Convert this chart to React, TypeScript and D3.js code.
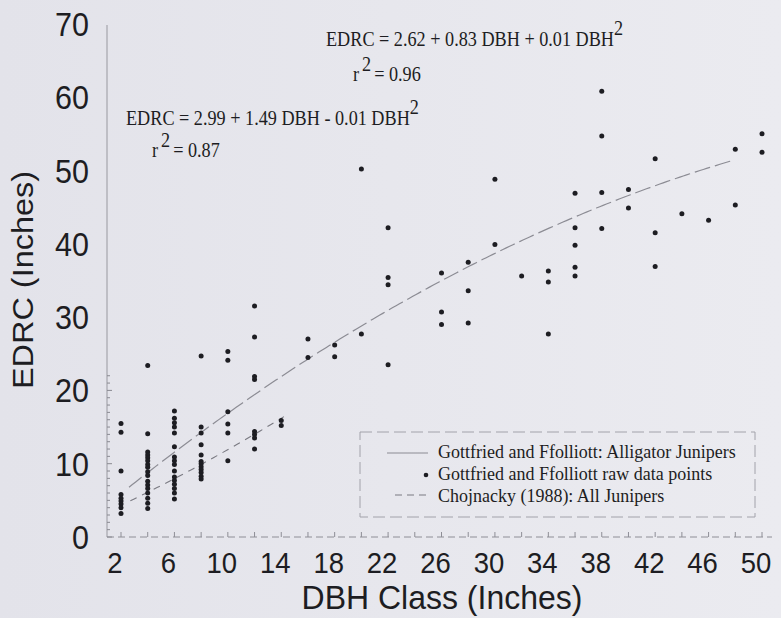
import React from "react";
import * as d3 from "d3";

// EDRC (inches) measured on each DBH class (inches)
const edrc2 = [15.5, 14.3, 9.0, 5.8, 5.3, 4.9, 4.5, 4.0, 3.2];
const edrc4 = [23.4, 14.1, 11.6, 11.2, 10.8, 10.4, 9.9, 9.5, 8.9, 8.4, 7.6, 7.1, 6.6, 6.0, 5.3, 4.6, 3.9];
const edrc6 = [17.2, 16.2, 15.6, 15.0, 14.2, 12.3, 10.9, 10.4, 9.9, 9.0, 8.2, 7.7, 7.2, 6.6, 6.0, 5.2];
const edrc8 = [24.7, 15.0, 14.2, 12.6, 11.2, 10.3, 10.0, 9.6, 9.2, 8.8, 8.3, 7.9];
const edrc10 = [25.3, 24.1, 17.1, 15.4, 14.2, 10.4];
const edrc12 = [31.5, 27.3, 21.9, 21.5, 14.4, 14.0, 13.5, 12.0];
const edrc14 = [15.9, 15.2];
const edrc16 = [27.0, 24.5];
const edrc18 = [26.2, 24.6];
const edrc20 = [50.2, 27.7];
const edrc22 = [42.2, 35.4, 34.4, 23.5];
const edrc26 = [36.0, 30.7, 29.0];
const edrc28 = [37.5, 33.6, 29.2];
const edrc30 = [48.8, 39.9];
const edrc32 = [35.6];
const edrc34 = [36.3, 34.8, 27.7];
const edrc36 = [46.9, 42.2, 39.8, 36.8, 35.6];
const edrc38 = [60.8, 54.7, 47.0, 42.1];
const edrc40 = [47.4, 44.9];
const edrc42 = [51.6, 41.5, 36.9];
const edrc44 = [44.1];
const edrc46 = [43.2];
const edrc48 = [52.9, 45.3];
const edrc50 = [55.0, 52.5];

const dbhClasses = [2, 4, 6, 8, 10, 12, 14, 16, 18, 20, 22, 26, 28, 30, 32, 34, 36, 38, 40, 42, 44, 46, 48, 50];
const edrcByClass = [
  edrc2, edrc4, edrc6, edrc8, edrc10, edrc12, edrc14, edrc16, edrc18, edrc20, edrc22,
  edrc26, edrc28, edrc30, edrc32, edrc34, edrc36, edrc38, edrc40, edrc42, edrc44, edrc46, edrc48, edrc50,
];

// Quadratic fits: EDRC = a + b*DBH + c*DBH^2
const gottfriedCoef = [2.99, 1.49, -0.01];
const gottfriedRange = [2.6, 48];
const chojnackyCoef = [2.62, 0.83, 0.01];
const chojnackyRange = [2.7, 14.4];

const xTickLabels = [2, 6, 10, 14, 18, 22, 26, 30, 34, 38, 42, 46, 50];
const yTickLabels = [0, 10, 20, 30, 40, 50, 60, 70];
const xMinorTicks = d3.range(2, 51, 2);
const yMinorTicks = d3.range(0, 23, 1);

const legendItems = [
  "Gottfried and Ffolliott: Alligator Junipers",
  "Gottfried and Ffolliott raw data points",
  "Chojnacky (1988): All Junipers",
];

const W = 781;
const H = 618;
const SANS = "Liberation Sans, Arimo, Arial, Helvetica, sans-serif";
const SERIF = "Liberation Serif, Tinos, Times New Roman, Times, DejaVu Serif, serif";
const INK = "#1d1d22";

const x = d3.scaleLinear().domain([2, 50]).range([121, 762]);
const y = d3.scaleLinear().domain([0, 70]).range([537, 23.9]);

const quad = (c: number[]) => (v: number) => c[0] + c[1] * v + c[2] * v * v;

const curve = (coef: number[], range: number[]) => {
  const f = quad(coef);
  const pts = d3.range(range[0], range[1] + 0.001, 0.25).map((v) => [v, f(v)] as [number, number]);
  return d3
    .line<[number, number]>()
    .x((d) => x(d[0]))
    .y((d) => y(d[1]))(pts) as string;
};

const points = dbhClasses.flatMap((dbh, i) => edrcByClass[i].map((e) => ({ dbh, e })));

const sans = (size: number) => ({ fontFamily: SANS, fontSize: `${size}px` });
const serif = (size: number) => ({ fontFamily: SERIF, fontSize: `${size}px` });

export default function App() {
  const axisX = 107;
  const baseY = y(0);
  return (
    <svg
      width={W}
      height={H}
      viewBox={`0 0 ${W} ${H}`}
      style={{ position: "absolute", left: 0, top: 0, display: "block" }}
    >
      <defs>
        <linearGradient id="paper" x1="0" y1="0" x2="1" y2="0">
          <stop offset="0" stopColor="#e3e3ea" />
          <stop offset="1" stopColor="#ebebf0" />
        </linearGradient>
      </defs>
      <rect x={0} y={0} width={W} height={H} fill="url(#paper)" />

      {/* y axis */}
      <line x1={axisX} x2={axisX} y1={25} y2={baseY} stroke="#b4b4bc" strokeWidth={1.6} />
      {yMinorTicks.map((v) => (
        <line
          key={`ym${v}`}
          x1={axisX}
          x2={axisX + (v % 10 === 0 ? 5 : 3)}
          y1={y(v)}
          y2={y(v)}
          stroke="#8a8a92"
          strokeWidth={1}
        />
      ))}
      {yTickLabels.map((v) => (
        <text
          key={`yl${v}`}
          transform={`translate(89,${y(v) + 12}) scale(1,1.1)`}
          textAnchor="end"
          style={sans(30.5)}
          fill={INK}
        >
          {v}
        </text>
      ))}
      <text
        transform={`translate(33,280) rotate(-90) scale(1.1,1)`}
        textAnchor="middle"
        style={sans(29.5)}
        fill={INK}
      >
        EDRC (Inches)
      </text>

      {/* x axis */}
      <line x1={axisX} x2={772} y1={baseY} y2={baseY} stroke="#8e8e96" strokeWidth={1} strokeDasharray="7 4" />
      {xMinorTicks.map((v) => (
        <line key={`xm${v}`} x1={x(v)} x2={x(v)} y1={baseY} y2={baseY - 5} stroke="#8e8e96" strokeWidth={1} />
      ))}
      {xTickLabels.map((v) => (
        <text
          key={`xl${v}`}
          transform={`translate(${x(v) - 6},573) scale(1,1.1)`}
          textAnchor="middle"
          style={sans(27.5)}
          fill={INK}
        >
          {v}
        </text>
      ))}
      <text
        transform={`translate(442,609) scale(1,1.04)`}
        textAnchor="middle"
        style={sans(32)}
        fill={INK}
      >
        DBH Class (Inches)
      </text>

      {/* fitted curves */}
      <path
        d={curve(gottfriedCoef, gottfriedRange)}
        fill="none"
        stroke="#8c8c94"
        strokeWidth={1.2}
        strokeDasharray="16 5"
      />
      <path
        d={curve(chojnackyCoef, chojnackyRange)}
        fill="none"
        stroke="#7a7a82"
        strokeWidth={1.1}
        strokeDasharray="7 6"
      />

      {/* raw data */}
      {points.map((p, i) => (
        <circle key={`p${i}`} cx={x(p.dbh)} cy={y(p.e)} r={2.5} fill={INK} />
      ))}

      {/* equations */}
      <g style={serif(18.2)} fill={INK}>
        <text transform="translate(326,46) scale(1,1.12)">
          EDRC = 2.62 + 0.83 DBH + 0.01 DBH
          <tspan dy={-10}>2</tspan>
        </text>
        <text transform="translate(353,81) scale(1,1.12)">
          r<tspan dx={3} dy={-9}>2</tspan>
          <tspan dx={3} dy={9}>= 0.96</tspan>
        </text>
        <text transform="translate(126,125) scale(1,1.12)">
          EDRC = 2.99 + 1.49 DBH - 0.01 DBH
          <tspan dy={-10}>2</tspan>
        </text>
        <text transform="translate(152,157) scale(1,1.12)">
          r<tspan dx={3} dy={-9}>2</tspan>
          <tspan dx={3} dy={9}>= 0.87</tspan>
        </text>
      </g>

      {/* legend */}
      <rect
        x={360}
        y={432}
        width={395}
        height={85}
        fill="none"
        stroke="#a2a2aa"
        strokeWidth={1}
        strokeDasharray="12 5"
      />
      <line x1={387} x2={428} y1={453} y2={453} stroke="#8c8c94" strokeWidth={1.2} />
      <circle cx={426} cy={475} r={2.3} fill={INK} />
      <line x1={395} x2={428} y1={495} y2={495} stroke="#7a7a82" strokeWidth={1.1} strokeDasharray="7 5" />
      {legendItems.map((t, i) => (
        <text
          key={t}
          transform={`translate(438,${458 + i * 22}) scale(1,1.1)`}
          style={serif(18)}
          fill={INK}
        >
          {t}
        </text>
      ))}
    </svg>
  );
}
